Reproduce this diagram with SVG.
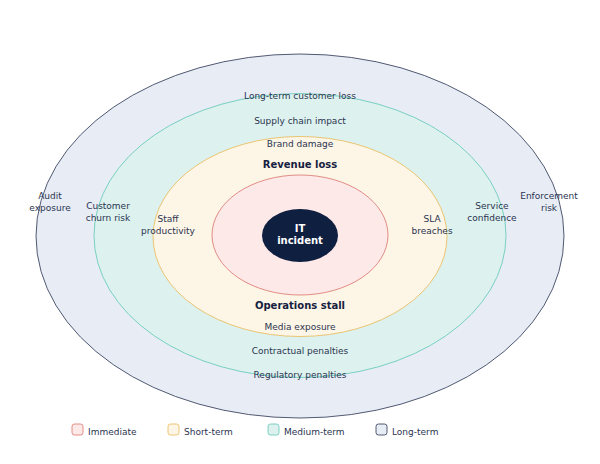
<svg xmlns="http://www.w3.org/2000/svg" width="600" height="464" viewBox="0 0 600 464">
<style>
.lbl{font-family:"DejaVu Sans",sans-serif;font-size:9px;fill:#2a3450;text-anchor:middle}
.bold{font-family:"DejaVu Sans",sans-serif;font-size:10px;font-weight:bold;fill:#15213f;text-anchor:middle}
.leg{font-family:"DejaVu Sans",sans-serif;font-size:9px;fill:#2a3450}
</style>
<rect width="600" height="464" fill="#ffffff"/>
<g id="ring-long">
<ellipse cx="300" cy="236" rx="264" ry="182" fill="#e8ecf5" stroke="#27324f" stroke-width="0.8"/>
</g>
<g id="ring-medium">
<ellipse cx="300" cy="235.5" rx="206" ry="142" fill="#ddf1ee" stroke="#5ec7b6" stroke-width="0.8"/>
</g>
<g id="ring-short">
<ellipse cx="300" cy="236.5" rx="147" ry="100" fill="#fdf5e6" stroke="#e9b954" stroke-width="0.8"/>
</g>
<g id="ring-immediate">
<ellipse cx="300" cy="235" rx="88" ry="60" fill="#fde9e8" stroke="#d8736b" stroke-width="0.8"/>
</g>
<g id="core">
<ellipse cx="300" cy="235.5" rx="38" ry="26.5" fill="#0f1f40"/>
<text class="bold" x="300" y="232" fill="#ffffff" style="fill:#ffffff">IT</text>
<text class="bold" x="300" y="244" style="fill:#ffffff">incident</text>
</g>
<g id="labels-top">
<text class="lbl" x="300" y="99">Long-term customer loss</text>
<text class="lbl" x="300" y="124">Supply chain impact</text>
<text class="lbl" x="300" y="147">Brand damage</text>
<text class="bold" x="300" y="168">Revenue loss</text>
</g>
<g id="labels-bottom">
<text class="bold" x="300" y="308.5">Operations stall</text>
<text class="lbl" x="300" y="329.5">Media exposure</text>
<text class="lbl" x="300" y="354">Contractual penalties</text>
<text class="lbl" x="300" y="378">Regulatory penalties</text>
</g>
<g id="labels-left">
<text class="lbl" x="50" y="199">Audit</text>
<text class="lbl" x="50" y="211">exposure</text>
<text class="lbl" x="108" y="209">Customer</text>
<text class="lbl" x="108" y="221">churn risk</text>
<text class="lbl" x="168" y="222">Staff</text>
<text class="lbl" x="168" y="234">productivity</text>
</g>
<g id="labels-right">
<text class="lbl" x="432" y="222">SLA</text>
<text class="lbl" x="432" y="234">breaches</text>
<text class="lbl" x="492" y="209">Service</text>
<text class="lbl" x="492" y="221">confidence</text>
<text class="lbl" x="549" y="199">Enforcement</text>
<text class="lbl" x="549" y="211">risk</text>
</g>
<g id="legend">
<rect x="72" y="424" width="11" height="11" rx="2.5" fill="#fde9e8" stroke="#d8736b" stroke-width="0.8"/>
<text class="leg" x="88" y="435">Immediate</text>
<rect x="168" y="424" width="11" height="11" rx="2.5" fill="#fdf5e6" stroke="#e9b954" stroke-width="0.8"/>
<text class="leg" x="184" y="435">Short-term</text>
<rect x="268" y="424" width="11" height="11" rx="2.5" fill="#ddf1ee" stroke="#5ec7b6" stroke-width="0.8"/>
<text class="leg" x="284" y="435">Medium-term</text>
<rect x="376" y="424" width="11" height="11" rx="2.5" fill="#e8ecf5" stroke="#27324f" stroke-width="0.8"/>
<text class="leg" x="392" y="435">Long-term</text>
</g>
<g id="connectors"></g>
</svg>
